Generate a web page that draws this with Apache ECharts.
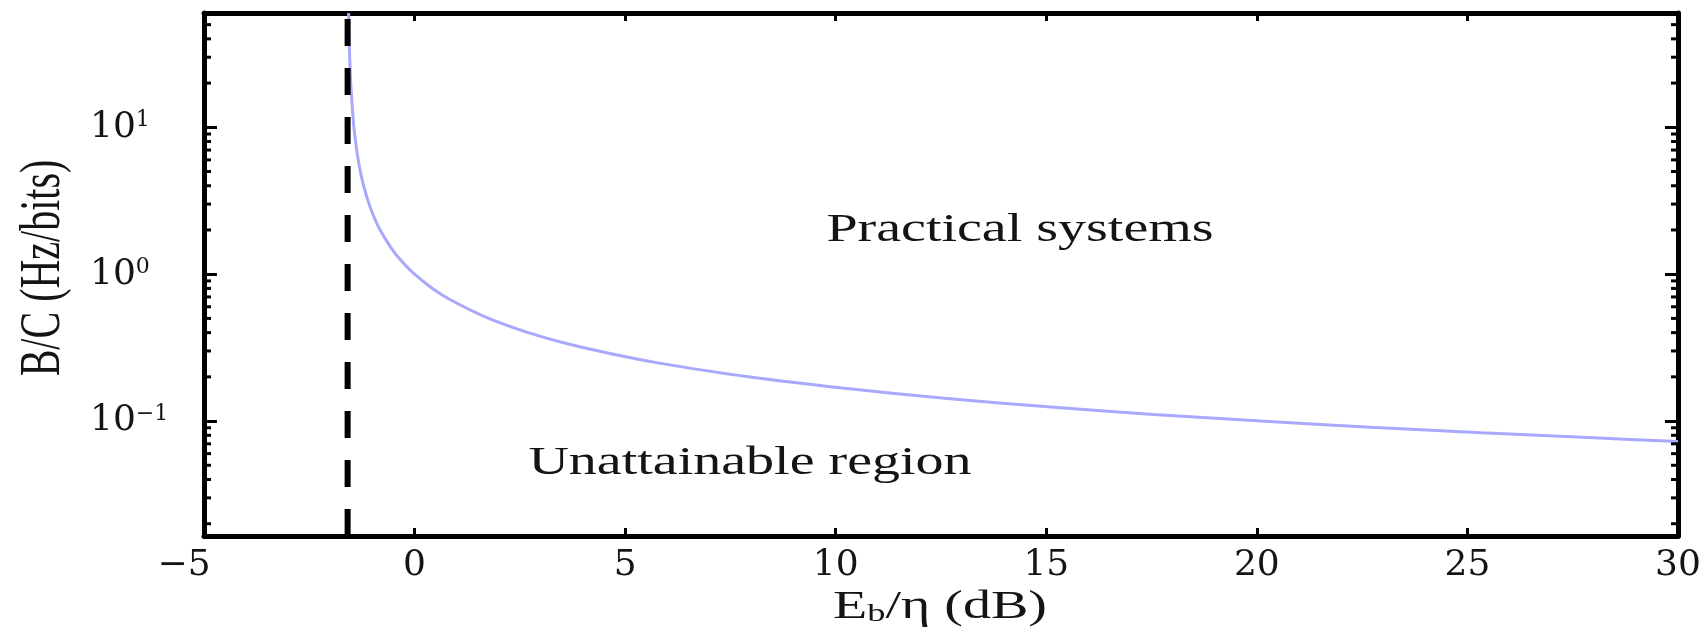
<!DOCTYPE html>
<html><head><meta charset="utf-8">
<script src="https://cdn.jsdelivr.net/npm/echarts@6/dist/echarts.min.js"></script>
<style>html,body{margin:0;padding:0;background:#fff}#c{width:1707px;height:628px}</style>
</head><body><div id="c"></div>
<script>
// Curve: Eb/eta (dB) vs B/C
const ebEtaDB = [-1.567, -1.561, -1.554, -1.541, -1.516, -1.476, -1.441, -1.364, -1.288, -1.210, -1.080, -0.976, -0.818, -0.550, -0.332, 0.000, 0.424, 0.860, 1.761, 2.701, 3.680, 4.694, 5.740, 7.924, 10.212, 12.587, 15.035, 17.542, 20.099, 22.697, 25.331, 27.994, 30.0];
const bOverC  = [60, 50, 40, 30, 20, 13.33, 10, 6.67, 5, 4, 3, 2.5, 2, 1.5, 1.25, 1, 0.8, 0.667, 0.5, 0.4, 0.333, 0.286, 0.25, 0.2, 0.167, 0.143, 0.125, 0.111, 0.1, 0.0909, 0.0833, 0.0769, 0.0727];
const limitDB = -1.59;                 // vertical dashed line
const xRange = [-5, 30];
const yRange = [0.0165, 60];
const xTicks = [-5, 0, 5, 10, 15, 20, 25, 30];
const xTickLabels = ['\u22125', '0', '5', '10', '15', '20', '25', '30'];
const yMajorTicks = [0.1, 1, 10];
const yTickExponents = ['\u22121', '0', '1'];
const yMinorTicks = [0.02,0.03,0.04,0.05,0.06,0.07,0.08,0.09,0.2,0.3,0.4,0.5,0.6,0.7,0.8,0.9,2,3,4,5,6,7,8,9,20,30,40,50,60];
const annotationTexts = ['Practical systems', 'Unattainable region'];
const xTitle = 'E{s|b}/\u03b7 (dB)';
const yTitle = 'B/C (Hz/bits)';

const curve = ebEtaDB.map((x, i) => [x, bOverC[i]]);
const limitLine = [[limitDB, yRange[0]], [limitDB, yRange[1]]];
const minorData = yMinorTicks.map(v => [xRange[0], v]);

const TXT = '#141414';
const serif = 'Liberation Serif';
const numFont = 'DejaVu Serif';

const chart = echarts.init(document.getElementById('c'), null, {renderer: 'canvas'});
const axisLineStyle = {show: true, onZero: false, lineStyle: {color: '#000', width: 5}};
chart.setOption({
  animation: false,
  backgroundColor: '#fff',
  grid: {left: 204, right: 29, top: 13, bottom: 92, containLabel: false},
  xAxis: [{
    type: 'value', position: 'bottom', min: xRange[0], max: xRange[1], interval: 5,
    axisLine: axisLineStyle, splitLine: {show: false},
    axisTick: {show: true, inside: true, length: 8, lineStyle: {color: '#000', width: 3}},
    axisLabel: {
      margin: 12, color: TXT, fontFamily: numFont, fontSize: 36,
      formatter: v => {
        const i = xTicks.indexOf(v);
        if (i < 0) return '';
        return v < 0 ? '{n|' + xTickLabels[i] + '}' : xTickLabels[i];
      },
      rich: {n: {fontFamily: numFont, fontSize: 36, color: TXT, padding: [0, 40, 0, 0]}}
    }
  }, {
    type: 'value', position: 'top', min: xRange[0], max: xRange[1], interval: 5,
    axisLine: axisLineStyle, splitLine: {show: false},
    axisTick: {show: true, inside: true, length: 8, lineStyle: {color: '#000', width: 3}},
    axisLabel: {show: false}
  }],
  yAxis: [{
    type: 'log', logBase: 10, position: 'left', min: yRange[0], max: yRange[1],
    axisLine: axisLineStyle, splitLine: {show: false},
    axisTick: {show: true, inside: true, length: 13, lineStyle: {color: '#000', width: 3}},
    axisLabel: {
      align: 'left', margin: 114, color: TXT, showMinLabel: false, showMaxLabel: false,
      fontFamily: numFont, fontSize: 36,
      formatter: v => {
        const i = yMajorTicks.findIndex(t => Math.abs(Math.log10(t) - Math.log10(v)) < 1e-6);
        return i >= 0 ? '{b|10}{s|' + yTickExponents[i] + '}' : '';
      },
      rich: {
        b: {fontFamily: numFont, fontSize: 36, color: TXT},
        s: {fontFamily: numFont, fontSize: 22, color: TXT, verticalAlign: 'top'}
      }
    }
  }, {
    type: 'log', logBase: 10, position: 'right', min: yRange[0], max: yRange[1],
    axisLine: axisLineStyle, splitLine: {show: false},
    axisTick: {show: true, inside: true, length: 13, lineStyle: {color: '#000', width: 3}},
    axisLabel: {show: false}
  }],
  series: [{
    type: 'line', name: 'bound', data: curve, xAxisIndex: 0, yAxisIndex: 0,
    showSymbol: false, symbol: 'none', smooth: 0.3, z: 2,
    lineStyle: {color: '#a8a8fc', width: 3}
  }, {
    type: 'line', name: 'limit', data: limitLine, xAxisIndex: 0, yAxisIndex: 0,
    showSymbol: false, symbol: 'none', z: 3,
    lineStyle: {color: '#000', width: 6, type: [27, 22]}
  }, {
    type: 'custom', name: 'minorTicks', data: minorData, xAxisIndex: 0, yAxisIndex: 0, z: 4,
    renderItem: (params, api) => {
      const pl = api.coord([xRange[0], api.value(1)]);
      const pr = api.coord([xRange[1], api.value(1)]);
      return {type: 'group', children: [
        {type: 'line', shape: {x1: pl[0], y1: pl[1], x2: pl[0] + 7, y2: pl[1]}, style: {stroke: '#000', lineWidth: 3}},
        {type: 'line', shape: {x1: pr[0], y1: pr[1], x2: pr[0] - 7, y2: pr[1]}, style: {stroke: '#000', lineWidth: 3}}
      ]};
    }
  }],
  graphic: [
    {type: 'text', x: 1020, y: 230, scaleX: 1.4, z: 10,
     style: {text: annotationTexts[0], fontFamily: serif, fontSize: 40, fill: TXT, align: 'center', verticalAlign: 'middle'}},
    {type: 'text', x: 750, y: 463, scaleX: 1.4, z: 10,
     style: {text: annotationTexts[1], fontFamily: serif, fontSize: 40, fill: TXT, align: 'center', verticalAlign: 'middle'}},
    {type: 'text', x: 940, y: 607, scaleX: 1.4, z: 10,
     style: {text: xTitle, fontFamily: serif, fontSize: 40, fill: TXT, align: 'center', verticalAlign: 'middle',
       rich: {s: {fontFamily: serif, fontSize: 26, fill: TXT, verticalAlign: 'bottom'}}}},
    {type: 'text', x: 44, y: 268, rotation: Math.PI / 2, scaleY: 1.4, z: 10,
     style: {text: yTitle, fontFamily: serif, fontSize: 40, fill: TXT, align: 'center', verticalAlign: 'middle'}}
  ]
});
</script></body></html>
